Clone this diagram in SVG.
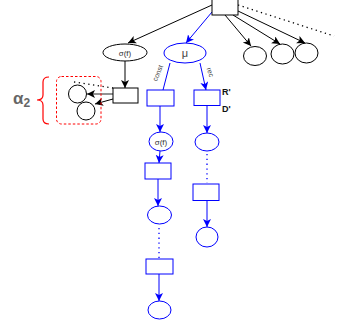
<svg xmlns="http://www.w3.org/2000/svg" width="349" height="334" viewBox="0 0 349 334">
<defs>
<marker id="ak" markerWidth="10" markerHeight="10" refX="8" refY="4" orient="auto" markerUnits="userSpaceOnUse"><path d="M0,0 L8,4 L0,8 L2,4 z" fill="#000"/></marker>
<marker id="ab" markerWidth="10" markerHeight="10" refX="8" refY="4" orient="auto" markerUnits="userSpaceOnUse"><path d="M0,0 L8,4 L0,8 L2,4 z" fill="#0000ff"/></marker>
</defs>
<style>
.k{fill:#fff;stroke:#000;stroke-width:1}
.b{fill:#fff;stroke:#0000ff;stroke-width:1}
.lk{fill:none;stroke:#000;stroke-width:1}
.lb{fill:none;stroke:#0000ff;stroke-width:1}
.dk{fill:none;stroke:#000;stroke-width:1.3;stroke-dasharray:1.3 3.5}
.db{fill:none;stroke:#0000ff;stroke-width:1.3;stroke-dasharray:1.3 3.5}
.t{font-family:"Liberation Sans",Arial,sans-serif;fill:#333;text-anchor:middle}
.tm{font-family:"Liberation Sans",Arial,sans-serif;fill:#444;text-anchor:middle;font-size:11px}
.lbl{font-family:"Liberation Sans",Arial,sans-serif;fill:#444;font-size:7px;text-anchor:middle}
.rd{font-family:"Liberation Sans",Arial,sans-serif;fill:#111;font-size:9px;font-weight:bold}
</style>
<g id="connectors">
<line class="dk" x1="238" y1="5" x2="334" y2="36"/>
<line class="lk" x1="212" y1="5" x2="128" y2="43" marker-end="url(#ak)"/>
<line class="lb" x1="212" y1="12" x2="186" y2="43" marker-end="url(#ab)"/>
<line class="lk" x1="225" y1="15" x2="251" y2="46" marker-end="url(#ak)"/>
<line class="lk" x1="233" y1="15" x2="280" y2="44" marker-end="url(#ak)"/>
<line class="lk" x1="238" y1="11" x2="305" y2="43" marker-end="url(#ak)"/>
<line class="lk" x1="125" y1="61" x2="125" y2="88" marker-end="url(#ak)"/>
<line class="dk" x1="74" y1="82" x2="113" y2="88"/>
<line x1="113" y1="94" x2="87" y2="94" stroke="#777" stroke-width="1.6" marker-end="url(#ak)"/>
<line class="lk" x1="113" y1="99" x2="95" y2="104" marker-end="url(#ak)"/>
<line class="lb" x1="170" y1="63" x2="163" y2="90"/>
<line class="lb" x1="200" y1="63" x2="206" y2="90" marker-end="url(#ab)"/>
<line class="lb" x1="160" y1="106" x2="160" y2="132" marker-end="url(#ab)"/>
<line class="lb" x1="207" y1="106" x2="207" y2="133" marker-end="url(#ab)"/>
<line class="lb" x1="160" y1="151" x2="159" y2="163" marker-end="url(#ab)"/>
<line class="lb" x1="158" y1="179" x2="158" y2="206" marker-end="url(#ab)"/>
<line class="db" x1="159" y1="228" x2="159" y2="258"/>
<line class="lb" x1="159" y1="274" x2="159" y2="301" marker-end="url(#ab)"/>
<line class="db" x1="207" y1="154" x2="207" y2="183"/>
<line class="lb" x1="207" y1="201" x2="207" y2="227" marker-end="url(#ab)"/>
<text class="lbl" transform="translate(160,74) rotate(-68)">const</text>
<text class="lbl" transform="translate(208,73) rotate(72)">rec</text>
</g>
<g id="root"><rect class="k" x="212" y="-1" width="26" height="16"/></g>
<g id="c1"><ellipse class="k" cx="255" cy="56" rx="11.5" ry="9.5"/></g>
<g id="c2"><ellipse class="k" cx="282.5" cy="54" rx="11.5" ry="10"/></g>
<g id="c3"><ellipse class="k" cx="306.5" cy="53" rx="11.5" ry="10"/></g>
<g id="sigma"><ellipse class="k" cx="125" cy="52.5" rx="22" ry="8.5"/><text class="t" x="125" y="55.5" font-size="8">σ(f)</text></g>
<g id="mu"><ellipse class="b" cx="185" cy="53" rx="21" ry="10"/><text class="tm" x="185" y="57">μ</text></g>
<g id="trans"><rect class="k" x="113" y="88" width="25" height="15"/></g>
<g id="alpha">
<rect x="56.5" y="76.5" width="44.5" height="47.5" rx="5" fill="none" stroke="#ff0000" stroke-width="1" stroke-dasharray="2.5 2"/>
<circle class="k" cx="77.5" cy="94" r="9"/>
<circle class="k" cx="86" cy="111" r="9"/>
<path d="M49,77 Q43,77 43,82 L43,95 Q43,100 37,100 Q43,100 43,105 L43,119 Q43,124 49,124" fill="none" stroke="#ff0000" stroke-width="1.2"/>
<text x="13" y="104" font-family="Liberation Sans,Arial,sans-serif" font-size="17" font-weight="bold" fill="#666">α<tspan font-size="12" dy="3">2</tspan></text>
</g>
<g id="b1"><rect class="b" x="147" y="90" width="27" height="16"/></g>
<g id="b2"><rect class="b" x="194" y="90" width="26" height="15.5"/><text class="rd" x="222" y="95">R'</text><text class="rd" x="222" y="112">D'</text></g>
<g id="s2"><ellipse class="b" cx="161" cy="141.5" rx="12" ry="9.5"/><text class="t" x="161" y="144.5" font-size="8">σ(f)</text></g>
<g id="b3"><rect class="b" x="145" y="163" width="26" height="16"/></g>
<g id="e1"><ellipse class="b" cx="159.5" cy="215" rx="12" ry="9"/></g>
<g id="b4"><rect class="b" x="146" y="259" width="27" height="15"/></g>
<g id="e2"><ellipse class="b" cx="159.5" cy="310" rx="11.5" ry="9"/></g>
<g id="r1"><ellipse class="b" cx="207" cy="142" rx="12" ry="9"/></g>
<g id="b5"><rect class="b" x="193" y="184" width="26" height="16.5"/></g>
<g id="r2"><ellipse class="b" cx="207" cy="237" rx="11" ry="10"/></g>
</svg>
